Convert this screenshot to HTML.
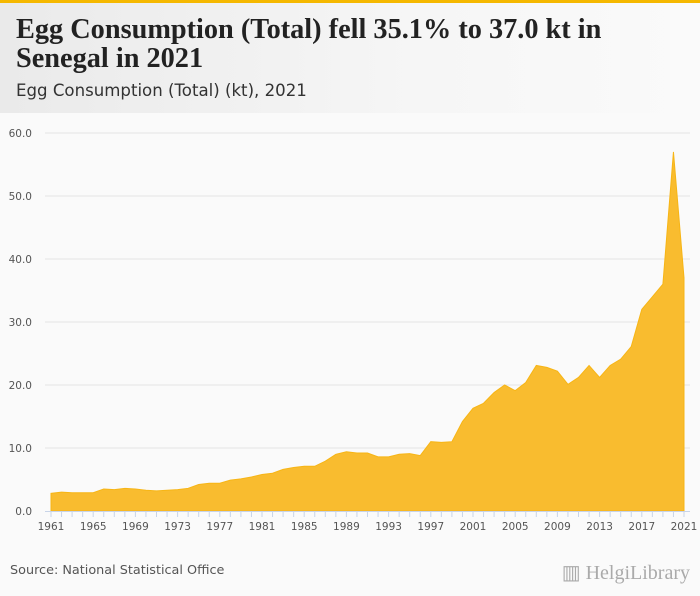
<!DOCTYPE html>
<html><head><meta charset="utf-8"><style>
body{margin:0;width:700px;height:596px;background:#fafafa;font-family:"Liberation Sans",sans-serif;overflow:hidden;position:relative}
#top{position:absolute;left:0;top:0;width:700px;height:3px;background:#f5b800}
#hdr{position:absolute;left:0;top:3px;width:700px;height:110px;background:linear-gradient(90deg,#eaeaea,#f6f6f6 60%,#fafafa)}
h1{position:absolute;left:16px;top:15px;margin:0;font-family:"Liberation Serif",serif;font-size:28.3px;line-height:29px;font-weight:bold;color:#222;width:640px}
#sub{position:absolute;left:16px;top:81px;font-size:16.6px;color:#333;font-family:"DejaVu Sans",sans-serif}
#src{position:absolute;left:10px;top:563px;font-size:12.8px;color:#555;font-family:"DejaVu Sans",sans-serif}
#logo{position:absolute;right:10px;top:560px;font-size:20px;color:#aaa;font-family:"Liberation Serif",serif}
</style></head><body>
<div id="top"></div>
<div id="hdr"></div>
<h1>Egg Consumption (Total) fell 35.1% to 37.0 kt in<br>Senegal in 2021</h1>
<div id="sub">Egg Consumption (Total) (kt), 2021</div>
<svg id="chart" width="700" height="596" style="position:absolute;left:0;top:0"></svg>
<div id="src">Source: National Statistical Office</div>
<div id="logo">▥ HelgiLibrary</div>
<script>
const years=[];for(let y=1961;y<=2021;y++)years.push(y);
const values=[2.8,3.0,2.9,2.9,2.9,3.5,3.4,3.6,3.5,3.3,3.2,3.3,3.4,3.6,4.2,4.4,4.4,4.9,5.1,5.4,5.8,6.0,6.6,6.9,7.1,7.1,7.9,9.0,9.4,9.2,9.2,8.6,8.6,9.0,9.1,8.8,11.0,10.9,11.0,14.2,16.3,17.1,18.8,20.0,19.1,20.4,23.1,22.8,22.2,20.1,21.2,23.1,21.2,23.1,24.1,26.1,32.0,34.0,36.0,57.0,37.0];
const yTicks=[0,10,20,30,40,50,60];
const xLabels=[1961,1965,1969,1973,1977,1981,1985,1989,1993,1997,2001,2005,2009,2013,2017,2021];
const NS='http://www.w3.org/2000/svg',svg=document.getElementById('chart');
const x=v=>51+(v-1961)*(684-51)/60, y=v=>511-v*6.3;
function mk(t,a){const e=document.createElementNS(NS,t);for(const k in a)e.setAttribute(k,a[k]);svg.appendChild(e);return e;}
yTicks.forEach(t=>{
 const g=mk('line',{x1:45,x2:690,y1:y(t),y2:y(t),stroke:t?'#e4e4e4':'none'});
 
 
 const l=mk('text',{x:32,y:y(t)+4,'font-size':10.5,fill:'#555','text-anchor':'end','font-family':'DejaVu Sans'});
 l.textContent=t.toFixed(1);
 
 
});
let d='M'+x(years[0])+','+y(0);
years.forEach((yr,i)=>{d+=' L'+x(yr)+','+y(values[i]);});
d+=' L'+x(years[years.length-1])+','+y(0)+'Z';
const area=mk('path',{d:d,fill:'#f9bc2f',stroke:'#f7b515','stroke-width':1});


const ax=mk('line',{x1:45,x2:690,y1:511.5,y2:511.5,stroke:'#c8d4e8'});


years.forEach(yr=>{
 const t=mk('line',{x1:x(yr),x2:x(yr),y1:511,y2:517,stroke:'#c8d4e8'});
 
 
});
xLabels.forEach(yr=>{
 const l=mk('text',{x:x(yr),y:530,'font-size':10.5,fill:'#555','text-anchor':'middle','font-family':'DejaVu Sans'});
 l.textContent=yr;
 
 
});
</script>
</body></html>
